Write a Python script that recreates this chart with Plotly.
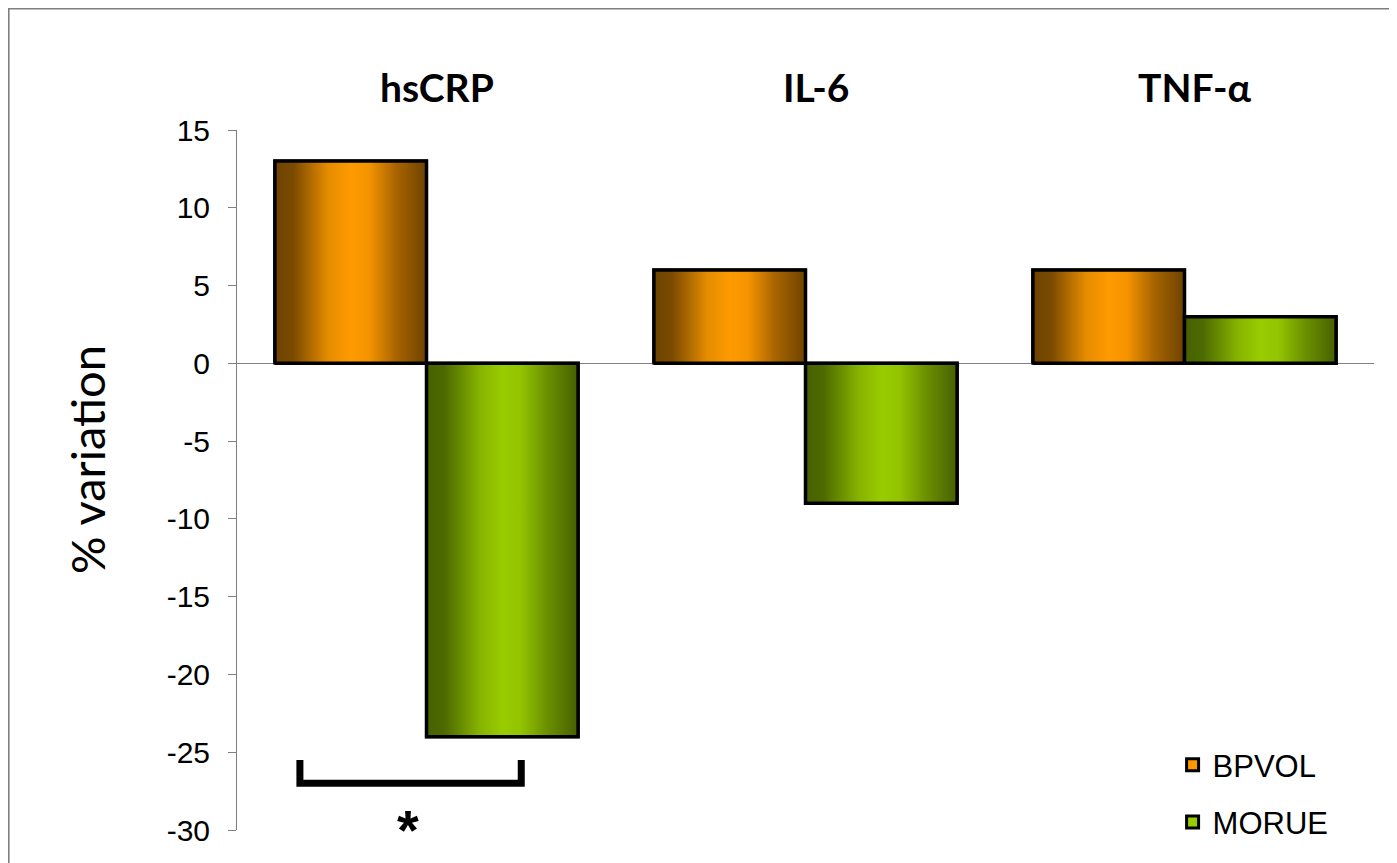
import plotly.graph_objects as go

categories = ["hsCRP", "IL-6", "TNF-α"]
series_names = ["BPVOL", "MORUE"]
bpvol = [13, 6, 6]
morue = [-24, -9, 3]
y_ticks = [15, 10, 5, 0, -5, -10, -15, -20, -25, -30]
y_tick_text = ["15", "10", "5", "0", "-5", "-10", "-15", "-20", "-25", "-30"]

solid_colors = ["#ff9900", "#99cc00"]
gradients = [
    [[0.0, "#6e4300"], [0.12, "#7a4a00"], [0.35, "#e58c00"], [0.5, "#ff9a00"],
     [0.62, "#f59400"], [0.8, "#a86400"], [1.0, "#6e4300"]],
    [[0.0, "#466000"], [0.12, "#4d6a00"], [0.35, "#86b300"], [0.5, "#99cc00"],
     [0.62, "#93c400"], [0.8, "#6a8f00"], [1.0, "#466000"]],
]

# the page body has an 8px margin; figure coordinates below are page - 8
W, H = 1389, 855
ML, MR, MT, MB = 229, 22.5, 122, 33
pw = W - ML - MR
ph = H - MT - MB


def px_x(p):
    return (p - 8 - ML) / pw


def px_y(p):
    return (H - MB - (p - 8)) / ph


fig = go.Figure()
xs = list(range(len(categories)))
bar_w = 0.4
all_vals = [bpvol, morue]

# underlying bars (legend + data)
for s, (name, vals) in enumerate(zip(series_names, all_vals)):
    fig.add_trace(go.Bar(
        x=xs, y=vals, name=name, legendgroup=name,
        marker=dict(color=solid_colors[s], line=dict(color="black", width=3)),
        width=bar_w, offset=-bar_w + s * bar_w,
    ))

# gradient overlays
for s, vals in enumerate(all_vals):
    for c, v in zip(xs, vals):
        x0 = c - bar_w + s * bar_w
        x1 = x0 + bar_w
        fig.add_trace(go.Scatter(
            x=[x0, x0, x1, x1, x0], y=[0, v, v, 0, 0],
            mode="lines", fill="toself",
            fillgradient=dict(type="horizontal", colorscale=gradients[s]),
            line=dict(color="black", width=3.5),
            showlegend=False, hoverinfo="skip",
        ))

# category labels at top
for c, name in zip(xs, categories):
    fig.add_annotation(x=c, y=px_y(87), xref="x", yref="paper", text="<b>%s</b>" % name,
                       showarrow=False, xshift=10, yanchor="middle",
                       font=dict(family="Lato", size=39, color="black"))

# y axis title
fig.add_annotation(x=px_x(87), y=px_y(460), xref="paper", yref="paper",
                   text="% variation", textangle=-90, showarrow=False,
                   xanchor="center", yanchor="middle",
                   font=dict(family="Lato", size=47, color="black"))

# significance bracket
bx0, bx1, by0, by1 = -0.334, 0.250, -25.5, -27.0
fig.add_shape(type="path", xref="x", yref="y",
              path=f"M{bx0},{by0} L{bx0},{by1} L{bx1},{by1} L{bx1},{by0}",
              line=dict(color="black", width=7))
fig.add_annotation(x=-0.05, y=-29.5, xref="x", yref="y", text="<b>*</b>", showarrow=False,
                   yanchor="middle", yshift=-7,
                   font=dict(family="Liberation Sans", size=56, color="black"))

# outer frame
fig.add_shape(type="rect", xref="paper", yref="paper",
              x0=px_x(8.5), x1=px_x(1420), y0=px_y(880), y1=px_y(8.5),
              line=dict(color="#7f7f7f", width=2), layer="below")

fig.update_layout(
    width=W, height=H,
    margin=dict(l=ML, r=MR, t=MT, b=MB, autoexpand=False),
    paper_bgcolor="white", plot_bgcolor="white",
    barmode="overlay",
    showlegend=True,
    legend=dict(x=px_x(1173), y=px_y(738), xanchor="left", yanchor="top",
                font=dict(family="Liberation Sans", size=31, color="black"),
                tracegroupgap=14, bgcolor="rgba(0,0,0,0)"),
    xaxis=dict(range=[-0.5, 2.5], showticklabels=False, showgrid=False, zeroline=False,
               showline=False, ticks=""),
    yaxis=dict(range=[-30, 15], tickvals=y_ticks, ticktext=y_tick_text,
               ticks="outside", ticklen=8,
               tickcolor="#7f7f7f", showline=True, linecolor="#7f7f7f", linewidth=1,
               showgrid=False, zeroline=True, zerolinecolor="#7f7f7f", zerolinewidth=1,
               tickfont=dict(family="Liberation Sans", size=30, color="black"),
               ticklabelstandoff=12),
)

fig.write_html("out.html")
